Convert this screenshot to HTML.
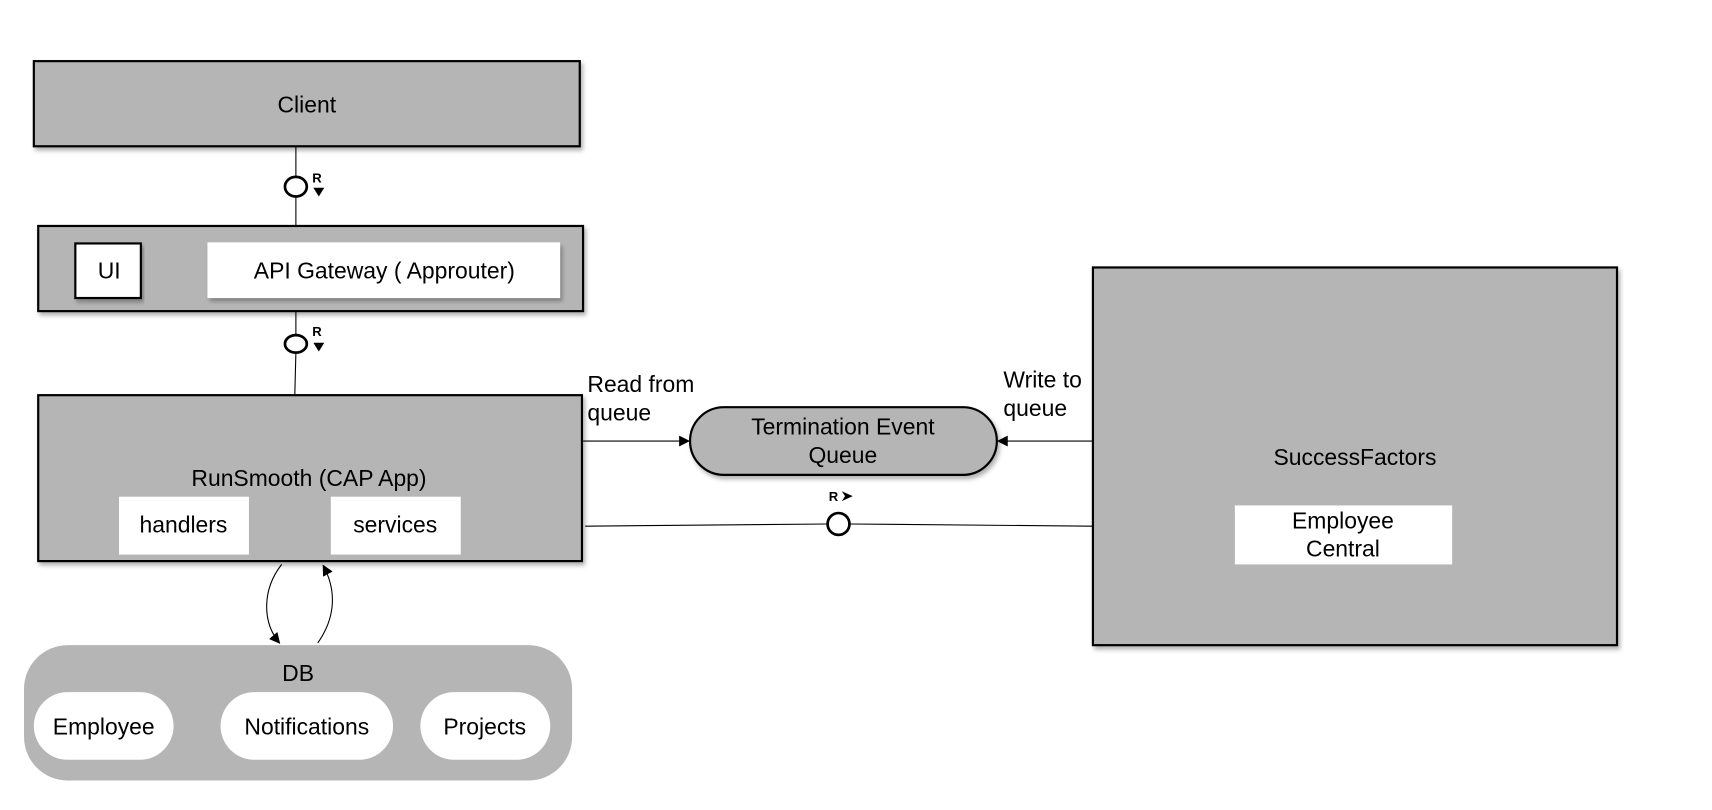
<!DOCTYPE html>
<html><head><meta charset="utf-8"><style>html,body{margin:0;padding:0;background:#fff}svg{display:block}</style></head>
<body>
<svg width="1712" height="810" viewBox="0 0 1568 742" preserveAspectRatio="none" xmlns="http://www.w3.org/2000/svg" font-family="Liberation Sans, sans-serif" font-size="21">
<defs>
<filter id="sh" x="-5%" y="-5%" width="110%" height="120%"><feDropShadow dx="2" dy="3" stdDeviation="2" flood-color="#000" flood-opacity="0.3"/></filter>
<marker id="ah" markerWidth="10" markerHeight="10" refX="9" refY="5" orient="auto" markerUnits="userSpaceOnUse"><path d="M0,0 L10,5 L0,10 z" fill="#000"/></marker>
</defs>
<g stroke="#000" stroke-width="2" fill="#b5b5b5" filter="url(#sh)">
<rect x="31" y="56" width="500" height="78"/>
<rect x="35" y="207" width="499" height="78"/>
<rect x="35" y="362" width="498" height="152"/>
<rect x="1001" y="245" width="480" height="346"/>
<rect x="632" y="373" width="281" height="62" rx="31"/>
</g>
<rect x="22" y="591" width="502" height="124" rx="40" fill="#b5b5b5"/>
<rect x="69" y="223" width="60" height="50" fill="#fff" stroke="#000" stroke-width="2" filter="url(#sh)"/>
<rect x="190" y="222" width="323" height="51" fill="#fff" filter="url(#sh)"/>
<rect x="109" y="455" width="119" height="53" fill="#fff"/>
<rect x="303" y="455" width="119" height="53" fill="#fff"/>
<rect x="1131" y="463" width="199" height="54" fill="#fff"/>
<rect x="31" y="634" width="128" height="62" rx="31" fill="#fff"/>
<rect x="202" y="634" width="158" height="62" rx="31" fill="#fff"/>
<rect x="385" y="634" width="119" height="62" rx="31" fill="#fff"/>
<g stroke="#000" stroke-width="1" fill="none">
<line x1="271" y1="134" x2="271" y2="162"/><line x1="271" y1="180" x2="271" y2="207"/>
<line x1="271" y1="285" x2="271" y2="307"/><line x1="271" y1="323" x2="270" y2="362"/>
<line x1="534" y1="404" x2="631" y2="404" marker-end="url(#ah)"/>
<line x1="1001" y1="404" x2="914" y2="404" marker-end="url(#ah)"/>
<line x1="536" y1="482" x2="758" y2="480"/><line x1="778" y1="480" x2="1001" y2="482"/>
<path d="M258,517 C240,540 240,570 256,589" marker-end="url(#ah)"/>
<path d="M291,589 C308,565 308,540 296,518" marker-end="url(#ah)"/>
</g>
<g stroke="#000" stroke-width="2.5" fill="#fff">
<ellipse cx="271" cy="171" rx="10" ry="9"/>
<ellipse cx="271" cy="315" rx="10" ry="8"/>
<ellipse cx="768" cy="480" rx="10" ry="10"/>
</g>
<g font-size="12" font-weight="bold" fill="#000">
<text x="286" y="167">R</text><path d="M287,172 L297,172 L292,180 z"/>
<text x="286" y="308">R</text><path d="M287,314 L297,314 L292,322 z"/>
<text x="759" y="459">R</text><path d="M771,450 L781,454.5 L771,459 L774,454.5 z"/>
</g>
<g fill="#000" text-anchor="middle">
<text x="281" y="103">Client</text>
<text x="100" y="255">UI</text>
<text x="352" y="255">API Gateway ( Approuter)</text>
<text x="283" y="445">RunSmooth (CAP App)</text>
<text x="168" y="488">handlers</text>
<text x="362" y="488">services</text>
<text x="772" y="398">Termination Event</text>
<text x="772" y="424">Queue</text>
<text x="1241" y="426">SuccessFactors</text>
<text x="1230" y="484">Employee</text>
<text x="1230" y="510">Central</text>
<text x="273" y="624">DB</text>
<text x="95" y="673">Employee</text>
<text x="281" y="673">Notifications</text>
<text x="444" y="673">Projects</text>
</g>
<g fill="#000">
<text x="538" y="359">Read from</text><text x="538" y="385">queue</text>
<text x="919" y="355">Write to</text><text x="919" y="381">queue</text>
</g>
</svg>
</body></html>
